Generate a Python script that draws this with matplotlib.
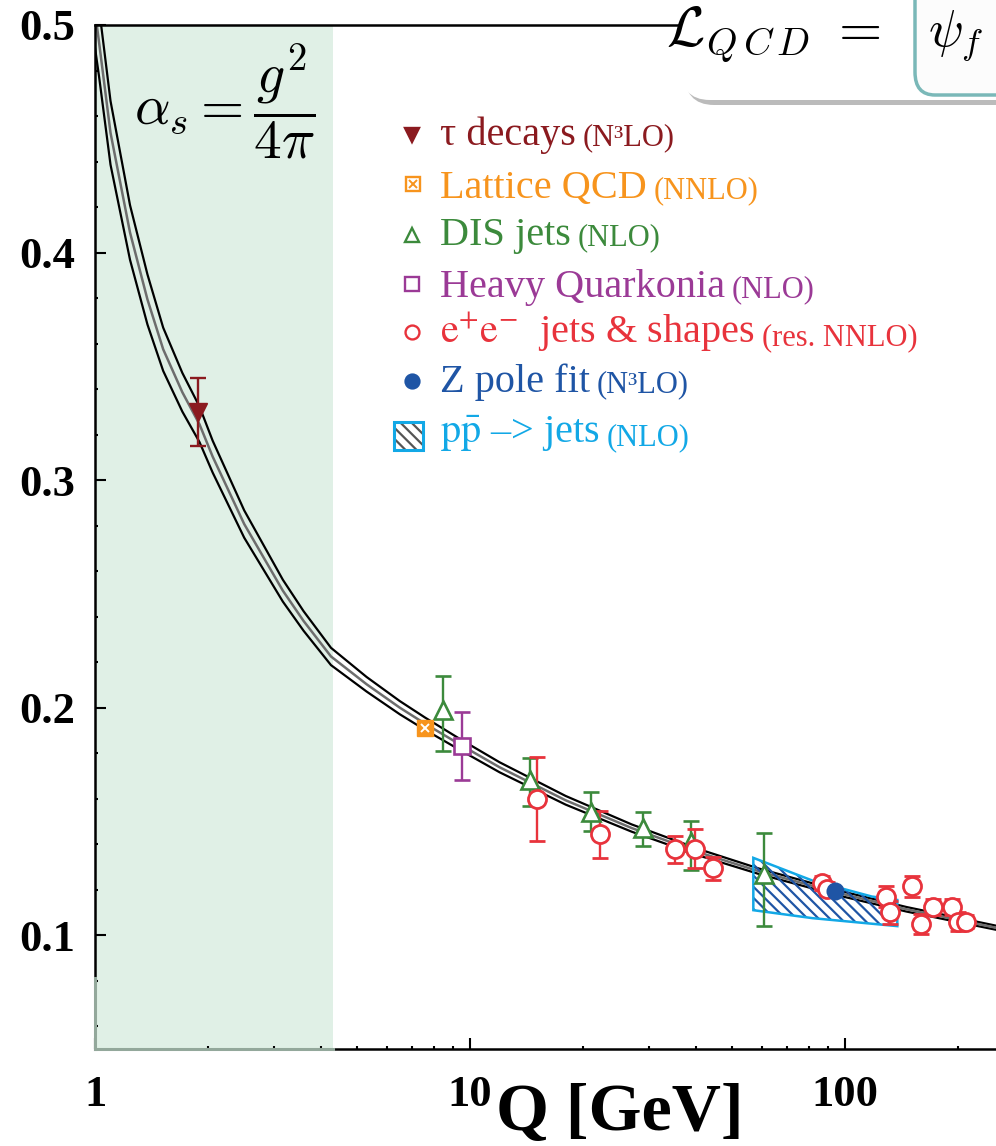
import numpy as np
import matplotlib.pyplot as plt
from matplotlib.patches import Polygon, Rectangle, FancyBboxPatch

plt.rcParams['font.family'] = ['Liberation Serif', 'DejaVu Serif']
plt.rcParams['hatch.linewidth'] = 1.6

# running coupling curve
curve_q = [1.0, 1.025, 1.1, 1.24, 1.38, 1.52, 1.71, 1.9, 2.06, 2.5, 3.17,
           3.6, 4.26, 5.3, 6.5, 7.6, 9.5, 12, 18, 27, 41, 59, 97, 146, 253]
curve_a = [0.506, 0.4925, 0.4526, 0.4088, 0.3794, 0.3575, 0.3386, 0.3245,
           0.3103, 0.2807, 0.2514, 0.2381, 0.2225, 0.2103, 0.2000, 0.1929,
           0.1834, 0.1738, 0.1593, 0.1471, 0.1363, 0.1281, 0.1184, 0.1114,
           0.1033]
curve_err = [0.016, 0.015, 0.014, 0.012, 0.011, 0.0095, 0.0085, 0.0078,
             0.007, 0.006, 0.0048, 0.0043, 0.0038, 0.0032, 0.0029, 0.0027,
             0.0024, 0.0022, 0.0019, 0.0016, 0.0014, 0.0012, 0.0011, 0.001,
             0.0009]

# tau decays
tau_q, tau_a, tau_e = [1.88], [0.330], [0.015]
# lattice QCD
lat_q, lat_a, lat_e = [7.6], [0.191], [0.002]
# DIS jets
dis_q = [8.5, 14.5, 21, 28.9, 38.8, 61]
dis_a = [0.199, 0.168, 0.154, 0.147, 0.141, 0.127]
dis_lo = [0.018, 0.011, 0.008, 0.008, 0.0125, 0.023]
dis_hi = [0.015, 0.010, 0.009, 0.007, 0.009, 0.018]
# heavy quarkonia
hq_q, hq_a, hq_e = [9.5], [0.183], [0.015]
# e+e- jets & shapes
ee_q = [15.1, 22.2, 35.3, 39.8, 44.5, 87, 89.5, 129, 132, 151, 160, 172,
        193, 200, 210]
ee_a = [0.160, 0.1443, 0.1377, 0.138, 0.1294, 0.123, 0.1205, 0.117, 0.110,
        0.1215, 0.105, 0.1123, 0.1123, 0.106, 0.106]
ee_e = [0.0185, 0.0105, 0.006, 0.0085, 0.005, 0.003, 0.003, 0.0045, 0.005,
        0.0045, 0.0045, 0.0035, 0.0035, 0.004, 0.003]
# Z pole fit
z_q, z_a, z_e = [94], [0.1193], [0.0015]
# p pbar -> jets band outline
pp_q = [57, 82, 118, 138, 138, 82, 57]
pp_a = [0.134, 0.124, 0.117, 0.1155, 0.104, 0.1075, 0.111]

shade_q = (1.0, 4.3)

C_TAU = '#8b1a1f'
C_LAT = '#f7941d'
C_DIS = '#3c8a3c'
C_HQ = '#9b3a96'
C_EE = '#e8333c'
C_Z = '#1f55a5'
C_PP = '#12a8e6'

fig = plt.figure(figsize=(9.96, 11.46), dpi=100)
ax = fig.add_axes([95 / 996, 97 / 1146, 901 / 996, 1024 / 1146])
ax.set_xscale('log')
ax.set_xlim(1, 253)
ax.set_ylim(0.05, 0.5)

ax.axvspan(*shade_q, color='#e0f0e6', zorder=0, lw=0)

q = np.array(curve_q)
a = np.array(curve_a)
e = np.array(curve_err)
ax.plot(q, a + e, color='black', lw=1.6, zorder=2)
ax.plot(q, a - e, color='black', lw=1.6, zorder=2)
ax.plot(q, a, color='#6d6d6d', lw=1.8, zorder=2)

# p pbar band
ax.add_patch(Polygon(list(zip(pp_q, pp_a)), closed=True, facecolor='none',
                     edgecolor=C_Z, hatch='\\\\\\', lw=0, zorder=3))
ax.add_patch(Polygon(list(zip(pp_q, pp_a)), closed=True, facecolor='none',
                     edgecolor=C_PP, lw=1.8, zorder=3))

eb = dict(capsize=5.5, elinewidth=1.7, capthick=1.7, ls='none', zorder=5)
ax.errorbar(tau_q, tau_a, yerr=tau_e, color=C_TAU, marker='v', ms=13, **eb)
ax.errorbar(dis_q, dis_a, yerr=[dis_lo, dis_hi], color=C_DIS, marker='^',
            ms=13, mfc='white', mew=1.9, **eb)
ax.errorbar(hq_q, hq_a, yerr=hq_e, color=C_HQ, marker='s', ms=12,
            mfc='white', mew=1.9, **eb)
ax.errorbar(ee_q, ee_a, yerr=ee_e, color=C_EE, marker='o', ms=13,
            mfc='white', mew=2.0, **eb)
ax.errorbar(z_q, z_a, yerr=z_e, color=C_Z, marker='o', ms=13, mew=0, **eb)
ax.errorbar(lat_q, lat_a, yerr=lat_e, color=C_LAT, marker='s', ms=12, **eb)
ax.plot(lat_q, lat_a, ls='none', marker='x', ms=6, color='white', mew=1.4,
        zorder=6)

# axes styling
ax.spines['right'].set_visible(False)
for s in ['left', 'bottom', 'top']:
    ax.spines[s].set_linewidth(1.8)
ax.set_yticks([0.1, 0.2, 0.3, 0.4, 0.5])
ax.set_yticklabels(['0.1', '0.2', '0.3', '0.4', '0.5'])
ax.set_yticks(np.arange(0.06, 0.5, 0.02), minor=True)
ax.set_xticks([1, 10, 100])
ax.set_xticklabels(['1', '10', '100'])
ax.tick_params(which='major', direction='in', length=8, width=1.5,
               labelsize=32, pad=14)
ax.tick_params(which='minor', direction='in', length=2.5, width=1.5)
ax.tick_params(axis='x', which='major', pad=19)
ax.tick_params(top=False, right=False, which='both')
for lab in ax.get_xticklabels() + ax.get_yticklabels():
    lab.set_fontweight('bold')

# grey-green part of the spines under the band
ax.plot(shade_q, [0.05, 0.05], color='#93a89b', lw=2.2, clip_on=False, zorder=7)
ax.plot([1, 1], [0.05, 0.081], color='#93a89b', lw=2.2, clip_on=False, zorder=7)


def fx(px):
    return px / 996


def fy(py):
    return 1 - py / 1146


fig.text(fx(620), fy(1130), 'Q [GeV]', fontsize=49, fontweight='bold',
         ha='center', va='baseline')

fig.text(fx(134), fy(102), r'$\alpha_s = \dfrac{g^2}{4\pi}$', fontsize=40,
         math_fontfamily='cm', ha='left', va='center')

# legend
legend_rows = [
    ('τ decays', '(N³LO)', C_TAU, 145),
    ('Lattice QCD', '(NNLO)', C_LAT, 198),
    ('DIS jets', '(NLO)', C_DIS, 245),
    ('Heavy Quarkonia', '(NLO)', C_HQ, 297),
    (r'$\mathrm{e^{+}e^{-}}$  jets & shapes', '(res. NNLO)', C_EE, 343),
    ('Z pole fit', '(N³LO)', C_Z, 392),
    (r'$\mathrm{p\bar{p}}$ –> jets', '(NLO)', C_PP, 443),
]
for main, sub, col, base in legend_rows:
    t = fig.text(fx(440), fy(base), main, fontsize=29, color=col,
                 ha='left', va='baseline', math_fontfamily='stix')
    ax.annotate(sub, xy=(1, 0), xycoords=t, xytext=(5, 1.5),
                textcoords='offset points', fontsize=22, color=col,
                ha='left', va='bottom')

mk = dict(transform=fig.transFigure, ls='none', ms=10, mew=1.7, clip_on=False)
ax.plot(fx(412), fy(135), marker='v', color=C_TAU, **mk)
ax.plot(fx(413), fy(184), marker='s', color=C_LAT, mfc='white', **mk)
ax.plot(fx(413), fy(184), marker='x', color=C_LAT, transform=fig.transFigure,
        ls='none', ms=5.5, mew=1.4, clip_on=False)
ax.plot(fx(412), fy(235), marker='^', color=C_DIS, mfc='white', **mk)
ax.plot(fx(412), fy(284), marker='s', color=C_HQ, mfc='white', **mk)
ax.plot(fx(412), fy(332), marker='o', color=C_EE, mfc='white', **mk)
ax.plot(fx(412), fy(381), marker='o', color=C_Z, **mk)
fig.patches.append(Rectangle((fx(394), fy(450)), 29 / 996, 28 / 1146,
                             transform=fig.transFigure, facecolor='white',
                             edgecolor='#555555', hatch='\\\\\\', lw=0))
fig.patches.append(Rectangle((fx(394), fy(450)), 29 / 996, 28 / 1146,
                             transform=fig.transFigure, facecolor='none',
                             edgecolor=C_PP, lw=2.2))

# Lagrangian box in the corner
shadow = FancyBboxPatch((fx(684), fy(105)), 0.4, 0.2,
                        boxstyle='round,pad=0,rounding_size=0.03',
                        transform=fig.transFigure, facecolor='#8f8f8f',
                        edgecolor='none', alpha=0.6, zorder=8)
box = FancyBboxPatch((fx(680), fy(100)), 0.4, 0.2,
                     boxstyle='round,pad=0,rounding_size=0.03',
                     transform=fig.transFigure, facecolor='white',
                     edgecolor='none', zorder=9)
inner = FancyBboxPatch((fx(915), fy(95)), 0.2, 0.2,
                       boxstyle='round,pad=0,rounding_size=0.02',
                       transform=fig.transFigure, facecolor='#fcfcfc',
                       edgecolor='#7ab8b8', lw=2.5, zorder=10)
fig.patches.extend([shadow, box, inner])
fig.text(fx(666), fy(46), r'$\mathcal{L}_{Q\,C\,D}\ =$', fontsize=40,
         math_fontfamily='cm', ha='left', va='baseline', zorder=11)
fig.text(fx(928), fy(46), r'$\psi_f$', fontsize=37,
         math_fontfamily='cm', ha='left', va='baseline', zorder=11)

fig.savefig('out.png', dpi=100)
